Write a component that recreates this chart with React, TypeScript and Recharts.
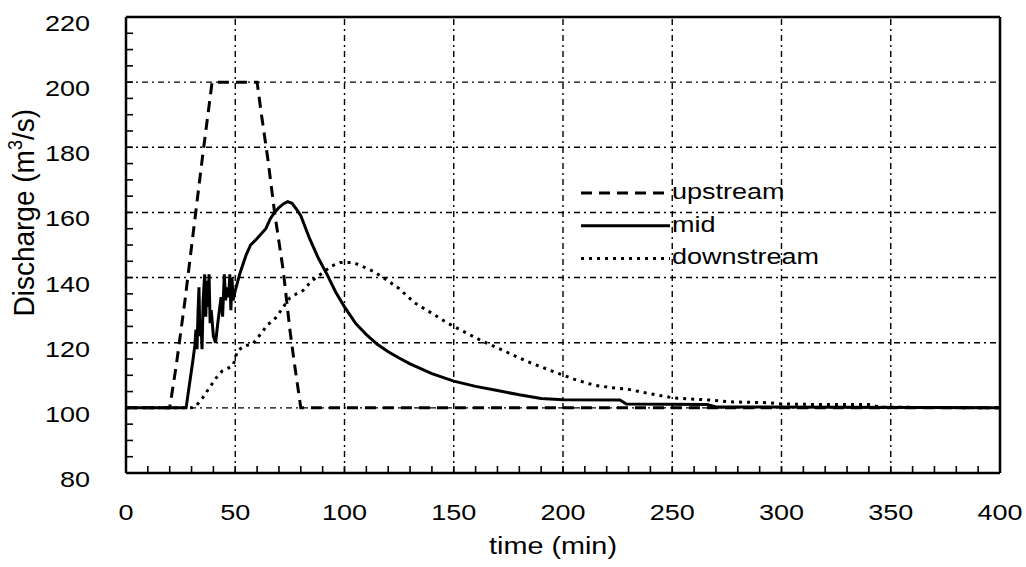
import React from 'react';
import { LineChart, Line, XAxis, YAxis, ReferenceLine, Legend } from 'recharts';

// ---- data ----
const UP_T = [0, 20, 23, 27, 31, 35, 39.4, 60, 62, 65, 68, 72, 75, 77, 80, 400];
const UP_Q = [100, 100, 113, 133, 155, 177, 200, 200, 190, 176, 160, 142, 124, 114, 100, 100];

const MID_T = [0, 27.5, 29, 30.5, 31.5, 32, 32.5, 33, 33.4, 33.8, 34.3, 34.8, 35.3, 36, 36.5, 37, 37.5, 38, 38.5, 39, 40, 41, 42, 43.5, 44.2, 45, 45.6, 46, 47, 47.5, 48, 48.5, 49, 50, 52, 53, 55, 57, 60, 62, 64, 66, 68, 70, 72, 74, 76, 78, 80, 84, 88, 92, 96, 100, 105, 110, 115, 120, 125, 130, 140, 150, 160, 170, 180, 190, 200, 226, 229, 266, 270, 400];
const MID_Q = [100, 100, 107, 114, 119, 124, 118, 130, 137, 122, 127, 118, 133, 141, 128, 139, 131, 141, 126, 130, 122, 120, 126, 134, 128, 141, 133, 137, 134, 141, 130, 140, 133, 136, 141, 143, 147, 150, 152, 153.5, 155, 158, 160, 161.5, 162.6, 163.3, 162.8, 161, 159, 152, 146, 141, 135.5, 131, 126, 122.5, 119.5, 117.2, 115.3, 113.5, 110.5, 108.2, 106.6, 105.3, 104, 102.9, 102.5, 102.4, 101.2, 101, 100.3, 100];

const DOWN_T = [0, 30, 32, 35, 38, 41, 44, 47, 49, 51, 54, 58, 62, 65, 67, 69, 72, 75, 78, 81, 85, 90, 94, 98, 104, 108, 113, 120, 125, 132, 142, 147, 154, 163, 173, 183, 195, 205, 214, 222, 229, 238, 250, 257, 267, 278, 293, 300, 320, 340, 345, 400];
const DOWN_Q = [100, 100, 100.5, 103, 106, 109, 111.3, 112.3, 113, 117.5, 119, 119.6, 123, 125.7, 126.5, 128, 131, 133.8, 135, 136, 139, 141.5, 143.5, 144.6, 144.6, 143.5, 142, 139, 136.6, 132.3, 128.2, 126.1, 123.6, 120.5, 117.5, 114.4, 111.3, 108.8, 107, 106.2, 105.8, 104.6, 103.1, 102.8, 102.4, 101.8, 101.6, 101.2, 101, 101, 100.2, 100];

const X_MINOR = Array.from({ length: 41 }, (_, i) => i * 10);
const Y_MINOR = Array.from({ length: 29 }, (_, i) => 80 + i * 5);
const X_GRID = [50, 100, 150, 200, 250, 300, 350];
const Y_GRID = [100, 120, 140, 160, 180, 200];

const SERIES = [
  { key: 'upstream', t: UP_T, q: UP_Q, dash: '11 7', width: 3 },
  { key: 'mid', t: MID_T, q: MID_Q, dash: undefined as string | undefined, width: 3 },
  { key: 'downstream', t: DOWN_T, q: DOWN_Q, dash: '3 5', width: 3 },
];

const toData = (t: number[], q: number[]) => t.map((tt, i) => ({ t: tt, q: q[i] }));

// ---- layout ----
const W = 1026;
const H = 567;
const FONT = '"Liberation Sans", Arial, Helvetica, sans-serif';
const TICK = 7;
const SX = 1.2;
const AXIS_STYLE = { stroke: '#000', strokeWidth: 2.5 };

const BottomTick = (p: any) => {
  const { x, y, payload } = p;
  const v = payload.value;
  return (
    <g>
      <line x1={x} x2={x} y1={y} y2={y - TICK} stroke="#000" strokeWidth={1.6} />
      {v % 50 === 0 && (
        <text transform={`translate(${x},${y + 47}) scale(${SX},1)`} textAnchor="middle" fontSize={22.5} fontFamily={FONT} fill="#000">
          {v}
        </text>
      )}
    </g>
  );
};

const TopTick = (p: any) => {
  const { x, y } = p;
  return <line x1={x} x2={x} y1={y} y2={y + TICK} stroke="#000" strokeWidth={1.6} />;
};

const LeftTick = (p: any) => {
  const { x, y, payload } = p;
  const v = payload.value;
  return (
    <g>
      <line x1={x} x2={x + TICK} y1={y} y2={y} stroke="#000" strokeWidth={1.6} />
      {(v - 80) % 20 === 0 && (
        <text transform={`translate(${x - 36},${y + 14}) scale(${SX},1)`} textAnchor="end" fontSize={22.5} fontFamily={FONT} fill="#000">
          {v}
        </text>
      )}
    </g>
  );
};

const RightTick = (p: any) => {
  const { x, y } = p;
  return <line x1={x} x2={x - TICK} y1={y} y2={y} stroke="#000" strokeWidth={1.6} />;
};

const YTitle = (p: any) => {
  const vb = p.viewBox || { x: 0, y: 17 };
  return (
    <text
      transform={`translate(${vb.x + 34},${vb.y + 92}) rotate(-90) scale(1,1.08)`}
      textAnchor="end"
      fontSize={28}
      fontFamily={FONT}
      fill="#000"
    >
      <tspan>Discharge (m</tspan>
      <tspan fontSize={18} dy={-11}>3</tspan>
      <tspan dy={11}>/s)</tspan>
    </text>
  );
};

const XTitle = (p: any) => {
  const vb = p.viewBox || { x: 126, y: 473, width: 874 };
  return (
    <text
      transform={`translate(${vb.x + vb.width / 2 - 10},${vb.y + 81}) scale(${SX},1)`}
      textAnchor="middle"
      fontSize={24}
      fontFamily={FONT}
      fill="#000"
    >
      time (min)
    </text>
  );
};

const LegendContent = () => (
  <svg width={250} height={100} style={{ overflow: 'visible' }}>
    {SERIES.map((s, i) => {
      const yy = 18 + i * 32.7;
      return (
        <g key={s.key}>
          <line x1={6} x2={95} y1={yy} y2={yy} stroke="#000" strokeWidth={s.width} strokeDasharray={s.dash} />
          <text transform={`translate(97,${yy + 6}) scale(${SX},1)`} fontSize={22.5} fontFamily={FONT} fill="#000">
            {s.key}
          </text>
        </g>
      );
    })}
  </svg>
);

const GRID_STYLE = { stroke: '#000', strokeWidth: 1.4, strokeDasharray: '6 4 2 4' };

export default function App() {
  return (
    <div style={{ position: 'absolute', left: 0, top: 0, width: W, height: H, background: '#fff' }}>
      <LineChart width={W} height={H} margin={{ top: 16, right: 25, bottom: 0, left: 0 }}>
        <XAxis
          dataKey="t"
          type="number"
          domain={[0, 400]}
          ticks={X_MINOR}
          interval={0}
          allowDataOverflow
          height={94}
          tickSize={0}
          tickMargin={0}
          tickLine={false}
          axisLine={AXIS_STYLE}
          tick={<BottomTick />}
          label={XTitle}
        />
        <XAxis
          xAxisId="top"
          orientation="top"
          dataKey="t"
          type="number"
          domain={[0, 400]}
          ticks={X_MINOR}
          interval={0}
          height={1}
          tickSize={0}
          tickMargin={0}
          tickLine={false}
          axisLine={AXIS_STYLE}
          tick={<TopTick />}
        />
        <YAxis
          type="number"
          domain={[80, 220]}
          ticks={Y_MINOR}
          interval={0}
          allowDataOverflow
          width={126}
          tickSize={0}
          tickMargin={0}
          tickLine={false}
          axisLine={AXIS_STYLE}
          tick={<LeftTick />}
          label={YTitle}
        />
        <YAxis
          yAxisId="right"
          orientation="right"
          type="number"
          domain={[80, 220]}
          ticks={Y_MINOR}
          interval={0}
          width={1}
          tickSize={0}
          tickMargin={0}
          tickLine={false}
          axisLine={AXIS_STYLE}
          tick={<RightTick />}
        />
        {X_GRID.map((g) => (
          <ReferenceLine key={'x' + g} x={g} {...GRID_STYLE} />
        ))}
        {Y_GRID.map((g) => (
          <ReferenceLine key={'y' + g} y={g} {...GRID_STYLE} />
        ))}
        {SERIES.map((s) => (
          <Line
            key={s.key}
            name={s.key}
            data={toData(s.t, s.q)}
            dataKey="q"
            type="linear"
            stroke="#000"
            strokeWidth={s.width}
            strokeDasharray={s.dash}
            dot={false}
            activeDot={false}
            isAnimationActive={false}
          />
        ))}
        <Legend
          layout="horizontal"
          verticalAlign="middle"
          align="center"
          content={<LegendContent />}
          wrapperStyle={{ position: 'absolute', left: 575, top: 175, width: 250, height: 100 }}
        />
      </LineChart>
    </div>
  );
}
